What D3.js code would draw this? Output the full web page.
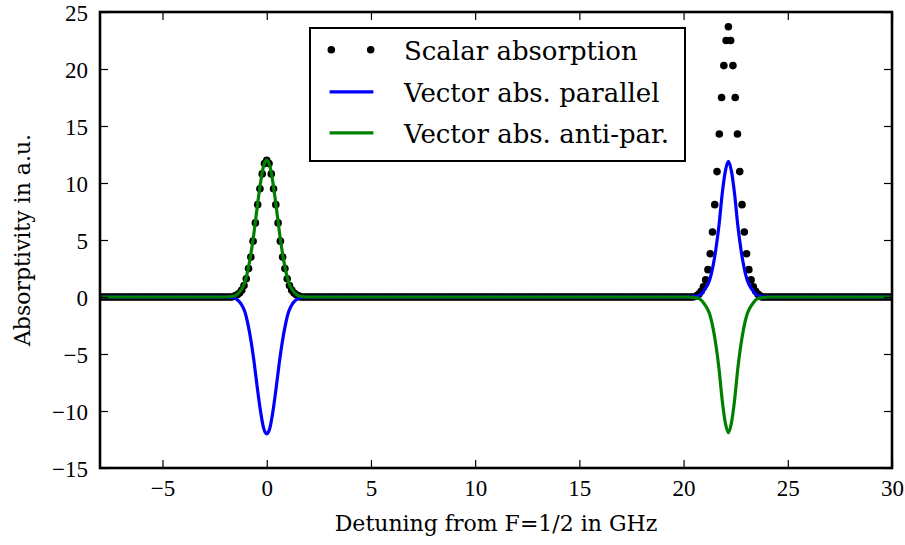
<!DOCTYPE html>
<html>
<head>
<meta charset="utf-8">
<script src="https://cdn.jsdelivr.net/npm/d3@7"></script>
<style>
  html, body { margin: 0; padding: 0; background: #fff; }
  svg { display: block; }
  text { fill: #000; }
</style>
</head>
<body>
<svg id="chart" width="905" height="545"></svg>
<script>
// ---- data -------------------------------------------------------------
const xTicks = [-5, 0, 5, 10, 15, 20, 25, 30];
const yTicks = [-15, -10, -5, 0, 5, 10, 15, 20, 25];

// Vector absorption curves (detuning in GHz, absorptivity in a.u.)
const curveX = [
  -8, -2.0, -1.6, -1.35, -1.2, -1.05, -0.9, -0.75, -0.6, -0.45, -0.3, -0.15,
  0, 0.15, 0.3, 0.45, 0.6, 0.75, 0.9, 1.05, 1.2, 1.35, 1.6, 2.0,
  20.15, 20.55, 20.8, 20.95, 21.1, 21.25, 21.4, 21.55, 21.7, 21.85, 22.0,
  22.15, 22.3, 22.45, 22.6, 22.75, 22.9, 23.05, 23.2, 23.35, 23.5, 23.75, 24.15, 30
];
const parallelY = [
  0, 0, -0.07, -0.35, -0.7, -1.3, -2.4, -3.9, -5.8, -8.0, -10.0, -11.5,
  -12.0, -11.5, -10.0, -8.0, -5.8, -3.9, -2.4, -1.3, -0.7, -0.35, -0.07, 0,
  0, 0.05, 0.2, 0.5, 0.9, 1.5, 2.6, 4.2, 6.3, 9.0, 11.0,
  11.9, 11.0, 9.0, 6.3, 4.2, 2.6, 1.5, 0.9, 0.5, 0.2, 0.05, 0, 0
];
const antiParY = [
  0, 0, 0.07, 0.35, 0.7, 1.3, 2.4, 3.9, 5.8, 8.0, 10.0, 11.5,
  12.0, 11.5, 10.0, 8.0, 5.8, 3.9, 2.4, 1.3, 0.7, 0.35, 0.07, 0,
  0, -0.05, -0.2, -0.5, -0.9, -1.5, -2.6, -4.2, -6.3, -9.0, -11.0,
  -11.9, -11.0, -9.0, -6.3, -4.2, -2.6, -1.5, -0.9, -0.5, -0.2, -0.05, 0, 0
];

// Scalar absorption samples around the two lines
const scalarPeak1X = [
  -1.526, -1.417, -1.308, -1.199, -1.09, -0.981, -0.872, -0.763, -0.654, -0.545, -0.436, -0.327, -0.218, -0.109,
  0, 0.109, 0.218, 0.327, 0.436, 0.545, 0.654, 0.763, 0.872, 0.981, 1.09, 1.199, 1.308, 1.417, 1.526
];
const scalarPeak1Y = [
  0.1, 0.2, 0.35, 0.6, 1.0, 1.6, 2.5, 3.5, 4.9, 6.5, 8.1, 9.5, 10.8, 11.7,
  12.0, 11.7, 10.8, 9.5, 8.1, 6.5, 4.9, 3.5, 2.5, 1.6, 1.0, 0.6, 0.35, 0.2, 0.1
];
const scalarPeak2X = [
  20.624, 20.733, 20.842, 20.951, 21.06, 21.169, 21.278, 21.387, 21.496, 21.605, 21.714, 21.823, 21.932, 22.041,
  22.15, 22.259, 22.368, 22.477, 22.586, 22.695, 22.804, 22.913, 23.022, 23.131, 23.24, 23.349, 23.458, 23.567, 23.676
];
const scalarPeak2Y = [
  0.1, 0.25, 0.5, 0.9, 1.5, 2.4, 3.8, 5.7, 8.1, 11.0, 14.3, 17.5, 20.3, 22.5,
  23.7, 22.5, 20.3, 17.5, 14.3, 11.0, 8.1, 5.7, 3.8, 2.4, 1.5, 0.9, 0.5, 0.25, 0.1
];
// Stretches where the scalar absorption is zero, sampled at the same spacing
const sampleStep = 0.109;
const scalarZeroSpans = [[-8, -1.6], [1.6, 20.55], [23.75, 30]];

const seriesNames = ["Scalar absorption", "Vector abs. parallel", "Vector abs. anti-par."];
const seriesColors = ["#000000", "#0000ff", "#008000"];

const textFont = "'DejaVu Serif', 'Liberation Serif', serif";
const tickFontFamily = "'Liberation Serif', serif";

// ---- layout -----------------------------------------------------------
const plot = { left: 100, right: 892, top: 12, bottom: 468 };
const svg = d3.select("#chart");

const x = d3.scaleLinear().domain([-8, 30]).range([plot.left, plot.right]);
const y = d3.scaleLinear().domain([-15, 25]).range([plot.bottom, plot.top]);

svg.append("defs").append("clipPath").attr("id", "plotClip")
  .append("rect")
  .attr("x", plot.left).attr("y", plot.top)
  .attr("width", plot.right - plot.left).attr("height", plot.bottom - plot.top);

const marks = svg.append("g").attr("clip-path", "url(#plotClip)");

// scalar samples as dots
const scalarPoints = [];
scalarZeroSpans.forEach(([a, b]) => {
  d3.range(a, b + 1e-9, sampleStep).forEach(v => scalarPoints.push([v, 0]));
});
scalarPeak1X.forEach((v, i) => scalarPoints.push([v, scalarPeak1Y[i]]));
scalarPeak2X.forEach((v, i) => scalarPoints.push([v, scalarPeak2Y[i]]));

marks.append("g").selectAll("circle").data(scalarPoints).join("circle")
  .attr("cx", d => x(d[0]))
  .attr("cy", d => y(d[1]))
  .attr("r", 3.8)
  .attr("fill", seriesColors[0]);

const line = d3.line()
  .x(d => x(d[0]))
  .y(d => y(d[1]))
  .curve(d3.curveMonotoneX);

[parallelY, antiParY].forEach((vals, i) => {
  marks.append("path")
    .datum(curveX.map((v, j) => [v, vals[j]]))
    .attr("d", line)
    .attr("fill", "none")
    .attr("stroke", seriesColors[i + 1])
    .attr("stroke-width", 3.2)
    .attr("stroke-linejoin", "round");
});

// ---- axes -------------------------------------------------------------
const tickFont = 23;
const fmt = d3.format("");

const bottomAxis = svg.append("g")
  .attr("transform", `translate(0,${plot.bottom})`)
  .call(d3.axisBottom(x).tickValues(xTicks).tickFormat(fmt).tickSize(-8).tickPadding(12));
const topAxis = svg.append("g")
  .attr("transform", `translate(0,${plot.top})`)
  .call(d3.axisTop(x).tickValues(xTicks).tickFormat("").tickSize(-8));
const leftAxis = svg.append("g")
  .attr("transform", `translate(${plot.left},0)`)
  .call(d3.axisLeft(y).tickValues(yTicks).tickFormat(fmt).tickSize(-8).tickPadding(12));
const rightAxis = svg.append("g")
  .attr("transform", `translate(${plot.right},0)`)
  .call(d3.axisRight(y).tickValues(yTicks).tickFormat("").tickSize(-8));

[bottomAxis, topAxis, leftAxis, rightAxis].forEach(g => {
  g.select(".domain").remove();
  g.selectAll(".tick line").attr("stroke", "#000").attr("stroke-width", 1.2);
  g.selectAll(".tick text")
    .style("font-family", tickFontFamily)
    .style("font-size", tickFont + "px")
    .attr("fill", "#000");
});
bottomAxis.selectAll(".tick text").attr("dy", "0.71em");
leftAxis.selectAll(".tick text").attr("dy", "0.35em");

// frame
svg.append("rect")
  .attr("x", plot.left).attr("y", plot.top)
  .attr("width", plot.right - plot.left).attr("height", plot.bottom - plot.top)
  .attr("fill", "none").attr("stroke", "#000").attr("stroke-width", 2.6);

// axis titles
svg.append("text")
  .attr("x", (plot.left + plot.right) / 2)
  .attr("y", 531)
  .attr("text-anchor", "middle")
  .style("font-family", textFont)
  .style("font-size", "22px")
  .text("Detuning from F=1/2 in GHz");

svg.append("text")
  .attr("transform", `translate(30,${(plot.top + plot.bottom) / 2}) rotate(-90)`)
  .attr("text-anchor", "middle")
  .style("font-family", textFont)
  .style("font-size", "22px")
  .text("Absorptivity in a.u.");

// ---- legend -----------------------------------------------------------
const legend = svg.append("g");
legend.append("rect")
  .attr("x", 310).attr("y", 28)
  .attr("width", 375).attr("height", 133)
  .attr("fill", "#fff").attr("stroke", "#000").attr("stroke-width", 2);

const rowY = [49.7, 91.8, 132.8];
seriesNames.forEach((name, i) => {
  const ry = rowY[i];
  if (i === 0) {
    [331.3, 370.7].forEach(cx => legend.append("circle")
      .attr("cx", cx).attr("cy", ry).attr("r", 3.8).attr("fill", seriesColors[0]));
  } else {
    legend.append("line")
      .attr("x1", 329.6).attr("x2", 373.4).attr("y1", ry).attr("y2", ry)
      .attr("stroke", seriesColors[i]).attr("stroke-width", 3.2);
  }
  legend.append("text")
    .attr("x", 404)
    .attr("y", ry + 10.5)
    .style("font-family", textFont)
    .style("font-size", "26px")
    .text(name);
});
</script>
</body>
</html>
